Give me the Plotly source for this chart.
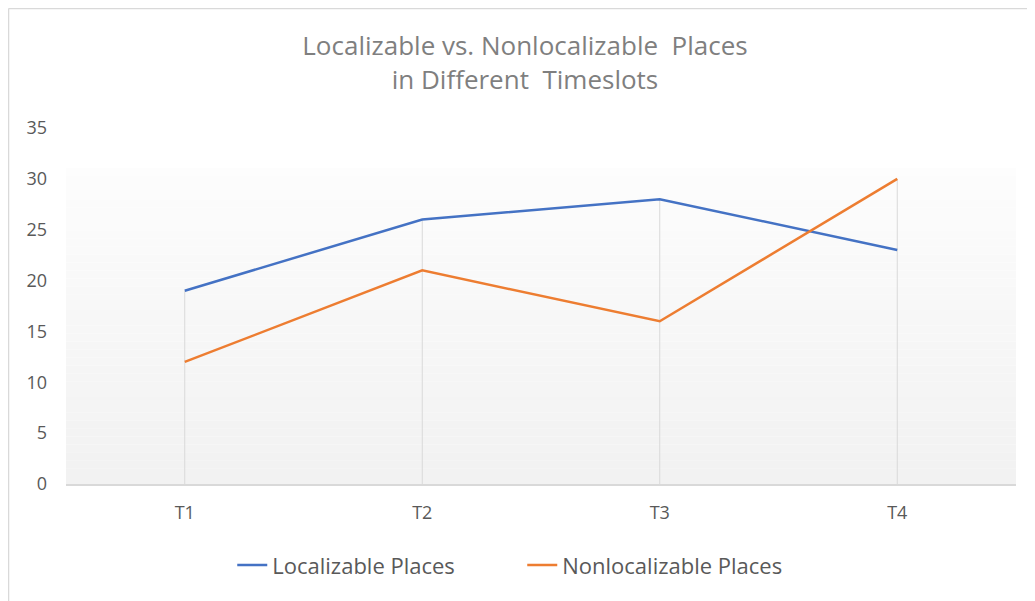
import plotly.graph_objects as go

# data
timeslots = ["T1", "T2", "T3", "T4"]
localizable = [19, 26, 28, 23]
nonlocalizable = [12, 21, 16, 30]
y_ticks = [0, 5, 10, 15, 20, 25, 30, 35]

FONT = "'Open Sans', Lato, sans-serif"
GREY_TXT = "#595959"

fig = go.Figure()

# drop lines from the higher point of each category down to the axis
drop_x, drop_y = [], []
for t, a, b in zip(timeslots, localizable, nonlocalizable):
    drop_x += [t, t, None]
    drop_y += [0, max(a, b), None]
fig.add_trace(go.Scatter(x=drop_x, y=drop_y, mode="lines",
                         line=dict(color="#d9d9d9", width=1),
                         showlegend=False, hoverinfo="skip"))

fig.add_trace(go.Scatter(x=timeslots, y=localizable, mode="lines",
                         name="Localizable Places",
                         line=dict(color="#4472C4", width=2.5)))
fig.add_trace(go.Scatter(x=timeslots, y=nonlocalizable, mode="lines",
                         name="Nonlocalizable Places",
                         line=dict(color="#ED7D31", width=2.5)))

# soft vertical gradient in the plot area (white at top -> light grey at bottom)
shapes = []
steps = 40
top_val = 31.1
for i in range(steps):
    f = i / (steps - 1)
    c = int(242 + (253 - 242) * f)
    shapes.append(dict(type="rect", xref="paper", yref="y", layer="below",
                       x0=0, x1=1, y0=top_val * i / steps, y1=top_val * (i + 1) / steps,
                       fillcolor=f"rgb({c},{c},{c})", line=dict(width=0)))
# chart border (left and top edges visible)
shapes.append(dict(type="line", xref="paper", yref="paper", x0=-0.0605, x1=-0.0605,
                   y0=-0.4, y1=1.3357, line=dict(color="#d9d9d9", width=1.5)))
shapes.append(dict(type="line", xref="paper", yref="paper", x0=-0.0605, x1=1.05,
                   y0=1.3357, y1=1.3357, line=dict(color="#d9d9d9", width=1.5)))

fig.update_layout(
    width=1027, height=593,
    margin=dict(l=58, r=19, t=120, b=117),
    paper_bgcolor="white", plot_bgcolor="rgba(0,0,0,0)",
    font=dict(family=FONT, color=GREY_TXT),
    title=dict(text="Localizable vs. Nonlocalizable  Places<br>in Different  Timeslots",
               x=0.5034, xref="container", xanchor="center",
               y=0.92, yref="container", yanchor="top",
               font=dict(size=26, color="#7f7f7f", family=FONT)),
    shapes=shapes,
    showlegend=True,
    legend=dict(orientation="h", x=0.175, xanchor="left", y=-0.228, yanchor="middle",
                font=dict(size=22, color=GREY_TXT),
                entrywidth=245, entrywidthmode="pixels",
                bgcolor="rgba(0,0,0,0)", tracegroupgap=0),
    hovermode=False,
)
fig.update_xaxes(range=[-0.5, 3.5], showgrid=False, showline=True,
                 linecolor="#d9d9d9", linewidth=1.5, ticks="",
                 tickfont=dict(size=18, color=GREY_TXT), ticklabelstandoff=12,
                 zeroline=False)
fig.update_yaxes(range=[0, 35], tickvals=y_ticks, showgrid=False, showline=False,
                 zeroline=False, ticks="", tickfont=dict(size=18, color=GREY_TXT),
                 ticklabelstandoff=18)

fig.write_html("out.html")
